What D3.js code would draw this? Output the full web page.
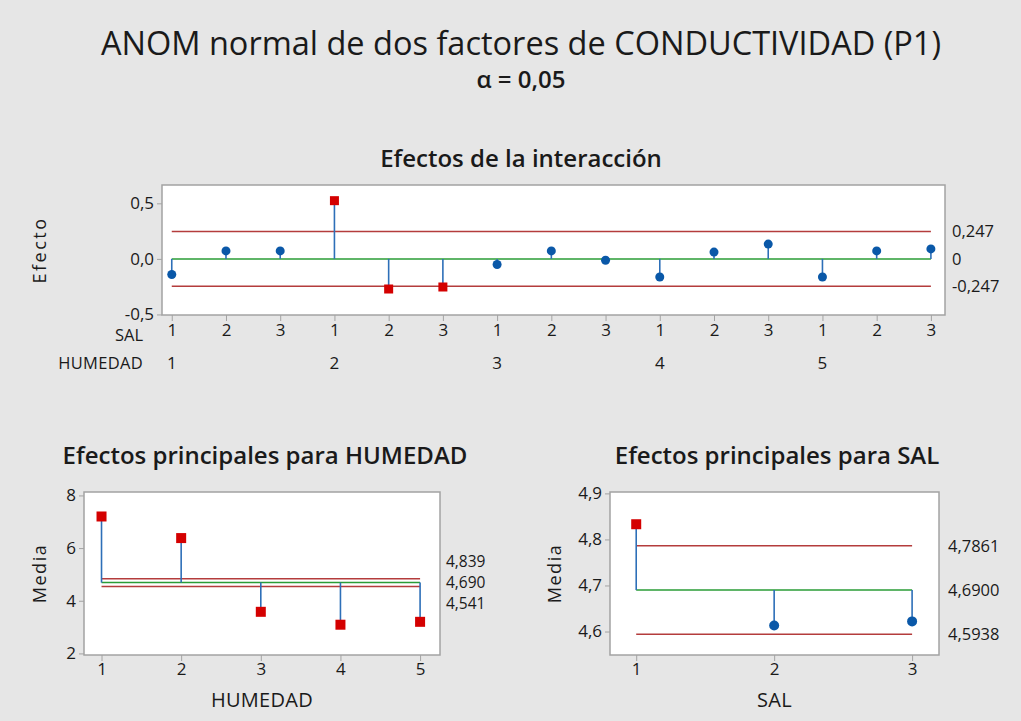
<!DOCTYPE html>
<html>
<head>
<meta charset="utf-8">
<script src="https://cdn.jsdelivr.net/npm/d3@7"></script>
<style>
  body { margin: 0; background: #e6e6e6; }
  svg text { font-family: "Open Sans", "Noto Sans", sans-serif; fill: #1a1a1a; }
</style>
</head>
<body>
<div id="chart"></div>
<script>
// Datos
const salLevels = [1, 2, 3];
const humLevels = [1, 2, 3, 4, 5];
const interEffects = [-0.141, 0.072, 0.072, 0.524, -0.271, -0.253, -0.051, 0.072, -0.012, -0.163, 0.061, 0.133, -0.163, 0.072, 0.090];
const interLimits = [-0.247, 0, 0.247];
const interLimitLabels = ["-0,247", "0", "0,247"];
const interTicks = [-0.5, 0.0, 0.5];
const interTickLabels = ["-0,5", "0,0", "0,5"];

const humMeans = [7.20, 6.38, 3.58, 3.09, 3.20];
const humLimits = [4.541, 4.690, 4.839];
const humLimitLabels = ["4,541", "4,690", "4,839"];
const humTicks = [2, 4, 6, 8];

const salMeans = [4.833, 4.613, 4.622];
const salLimits = [4.5938, 4.6900, 4.7861];
const salLimitLabels = ["4,5938", "4,6900", "4,7861"];
const salTicks = [4.6, 4.7, 4.8, 4.9];
const salTickLabels = ["4,6", "4,7", "4,8", "4,9"];

const width = 1021, height = 721;
const colors = { red: "#b43c3c", green: "#2a9c36", stem: "#2d6fb8", dot: "#0a58a8", square: "#d40000", frame: "#a3a3a3" };

const svg = d3.select("#chart").append("svg")
    .attr("width", width).attr("height", height);
svg.append("rect").attr("width", width).attr("height", height).attr("fill", "#e6e6e6");

// Titulos
svg.append("text").attr("x", 521).attr("y", 55).attr("text-anchor", "middle")
    .style("font-size", "32.5px").text("ANOM normal de dos factores de CONDUCTIVIDAD (P1)");
svg.append("text").attr("x", 521).attr("y", 88).attr("text-anchor", "middle")
    .style("font-size", "24px").style("font-weight", "600").text("α = 0,05");

// Panel generico ANOM
function drawPanel(opt) {
    const { box, xDomain, yDomain, xs, ys, limits, limitLabels } = opt;
    const x = d3.scaleLinear().domain(xDomain).range([box.x0, box.x1]);
    const y = d3.scaleLinear().domain(yDomain).range([box.y1, box.y0]);
    const g = svg.append("g");

    g.append("rect").attr("x", box.x0).attr("y", box.y0)
        .attr("width", box.x1 - box.x0).attr("height", box.y1 - box.y0)
        .attr("fill", "#fff").attr("stroke", colors.frame).attr("stroke-width", 1.5);

    // eje Y
    const yAxis = g.append("g").attr("transform", `translate(${box.x0},0)`)
        .call(d3.axisLeft(y).tickValues(opt.yTicks).tickSize(5).tickPadding(3)
            .tickFormat((d, i) => opt.yTickLabels ? opt.yTickLabels[i] : d));
    yAxis.select(".domain").remove();
    yAxis.selectAll("line").attr("stroke", colors.frame);
    yAxis.selectAll("text").style("font-size", "17px").attr("fill", "#1a1a1a");

    // eje X (marcas)
    const xAxis = g.append("g").attr("transform", `translate(0,${box.y1})`)
        .call(d3.axisBottom(x).tickValues(xs).tickSize(6).tickPadding(opt.xPad)
            .tickFormat((d, i) => opt.xTickLabels[i]));
    xAxis.select(".domain").remove();
    xAxis.selectAll("line").attr("stroke", colors.frame);
    xAxis.selectAll("text").style("font-size", "17px").attr("fill", "#1a1a1a");

    const xFirst = x(xs[0]), xLast = x(xs[xs.length - 1]);
    const center = limits[1];

    // limites de decision
    g.selectAll(".lim").data([limits[0], limits[2]]).enter().append("line")
        .attr("x1", xFirst).attr("x2", xLast)
        .attr("y1", d => y(d)).attr("y2", d => y(d))
        .attr("stroke", colors.red).attr("stroke-width", 1.5);
    g.append("line").attr("x1", xFirst).attr("x2", xLast)
        .attr("y1", y(center)).attr("y2", y(center))
        .attr("stroke", colors.green).attr("stroke-width", 1.5);

    // etiquetas de los limites (separadas si se solapan)
    const ly = limits.map(v => y(v));
    const gap = opt.labelGap || 0;
    if (gap) {
        if (ly[0] - ly[1] < gap) ly[0] = ly[1] + gap;
        if (ly[1] - ly[2] < gap) ly[2] = ly[1] - gap;
    }
    g.selectAll(".limlab").data(limitLabels).enter().append("text")
        .attr("x", box.x1 + opt.labelDx).attr("y", (d, i) => ly[i])
        .attr("dy", "0.35em")
        .style("font-size", opt.labelSize).text(d => d);

    // tallos y puntos
    const pts = ys.map((v, i) => ({ x: xs[i], v, out: v > limits[2] || v < limits[0] }));
    const s = opt.markSize;
    g.selectAll(".stem").data(pts).enter().append("line")
        .attr("x1", d => x(d.x)).attr("x2", d => x(d.x))
        .attr("y1", y(center)).attr("y2", d => y(d.v))
        .attr("stroke", colors.stem).attr("stroke-width", 1.6);
    g.selectAll(".sq").data(pts.filter(d => d.out)).enter().append("rect")
        .attr("x", d => x(d.x) - s / 2).attr("y", d => y(d.v) - s / 2)
        .attr("width", s).attr("height", s).attr("fill", colors.square);
    g.selectAll(".dot").data(pts.filter(d => !d.out)).enter().append("circle")
        .attr("cx", d => x(d.x)).attr("cy", d => y(d.v)).attr("r", s / 2)
        .attr("fill", colors.dot);

    // titulo del panel y etiquetas de ejes
    g.append("text").attr("x", opt.titleX).attr("y", box.y0 - opt.titleDy)
        .attr("text-anchor", "middle").style("font-size", "24px").style("font-weight", "600")
        .text(opt.title);
    g.append("text").attr("transform", `translate(${opt.yLabelX},${(box.y0 + box.y1) / 2}) rotate(-90)`)
        .attr("text-anchor", "middle").attr("dy", "0.35em")
        .style("font-size", "18px").style("letter-spacing", opt.yLabelSpacing).text(opt.yLabel);
    if (opt.xLabel) {
        g.append("text").attr("x", (box.x0 + box.x1) / 2).attr("y", box.y1 + 52)
            .attr("text-anchor", "middle").style("font-size", "20px").style("letter-spacing", "0.3px")
            .text(opt.xLabel);
    }
    return { x, y, g };
}

// Panel superior: efectos de la interaccion
const interX = interEffects.map((d, i) => i + 1);
const salRow = interX.map((d, i) => salLevels[i % salLevels.length]);
const interPanel = drawPanel({
    box: { x0: 162, x1: 945, y0: 185, y1: 315 },
    xDomain: [0.82, 15.26], yDomain: [-0.505, 0.665],
    xs: interX, ys: interEffects,
    xTickLabels: salRow, xPad: 3,
    yTicks: interTicks, yTickLabels: interTickLabels,
    limits: interLimits, limitLabels: interLimitLabels, labelDx: 7, labelSize: "16.5px",
    markSize: 9,
    title: "Efectos de la interacción", titleX: 521, titleDy: 18,
    yLabel: "Efecto", yLabelX: 40, yLabelSpacing: "2.5px"
});
// fila de HUMEDAD
interPanel.g.append("text").attr("x", 143).attr("y", 341).attr("text-anchor", "end")
    .style("font-size", "16.5px").text("SAL");
interPanel.g.append("text").attr("x", 143).attr("y", 369).attr("text-anchor", "end")
    .style("font-size", "16.5px").style("letter-spacing", "0.3px").text("HUMEDAD");
interPanel.g.selectAll(".hum").data(humLevels).enter().append("text")
    .attr("x", (d, i) => interPanel.x(interX[i * salLevels.length]))
    .attr("y", 369).attr("text-anchor", "middle")
    .style("font-size", "17px").text(d => d);

// Panel inferior izquierdo: HUMEDAD
drawPanel({
    box: { x0: 84, x1: 440, y0: 492, y1: 655 },
    xDomain: [0.78, 5.25], yDomain: [1.94, 8.13],
    xs: humLevels, ys: humMeans, xTickLabels: humLevels, xPad: 2,
    yTicks: humTicks,
    limits: humLimits, limitLabels: humLimitLabels, labelDx: 6, labelGap: 21, labelSize: "15.5px",
    markSize: 10,
    title: "Efectos principales para HUMEDAD", titleX: 265, titleDy: 28,
    yLabel: "Media", yLabelX: 40, yLabelSpacing: "1.5px", xLabel: "HUMEDAD"
});

// Panel inferior derecho: SAL
drawPanel({
    box: { x0: 610, x1: 939, y0: 492, y1: 655 },
    xDomain: [0.81, 3.195], yDomain: [4.549, 4.903],
    xs: salLevels, ys: salMeans, xTickLabels: salLevels, xPad: 2,
    yTicks: salTicks, yTickLabels: salTickLabels,
    limits: salLimits, limitLabels: salLimitLabels, labelDx: 9, labelSize: "16.5px",
    markSize: 10,
    title: "Efectos principales para SAL", titleX: 777, titleDy: 28,
    yLabel: "Media", yLabelX: 555, yLabelSpacing: "1.5px", xLabel: "SAL"
});
</script>
</body>
</html>
